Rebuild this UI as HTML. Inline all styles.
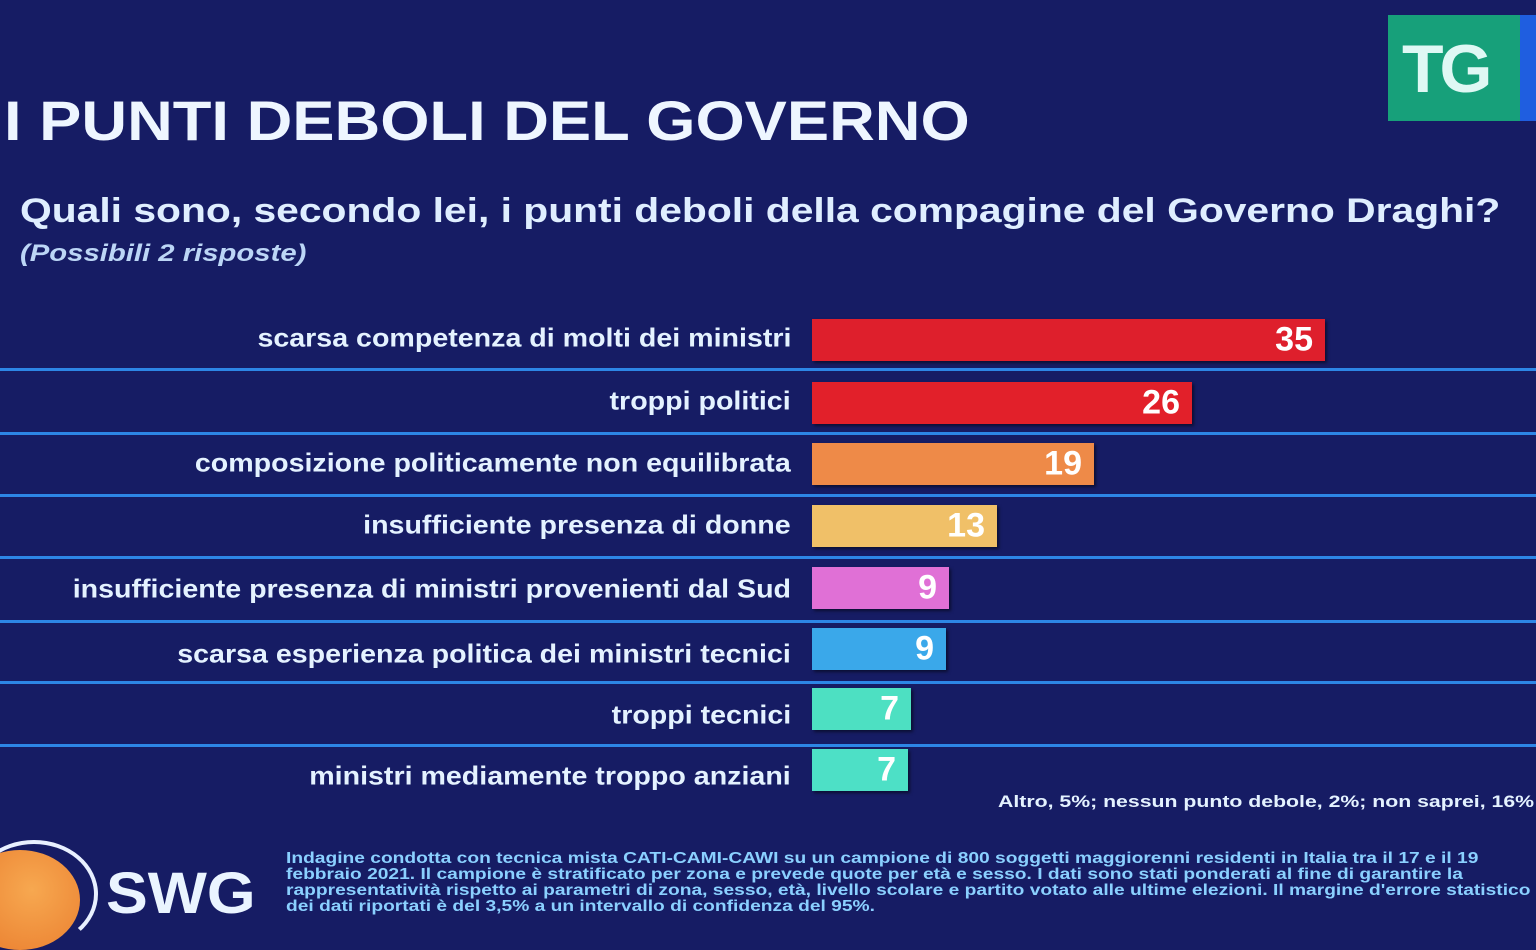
<!DOCTYPE html>
<html><head><meta charset="utf-8"><style>
body{margin:0;width:1536px;height:946px;overflow:hidden;background:#161c64;font-family:"Liberation Sans",sans-serif;position:relative;color:#e4f2ff}
.a{position:absolute;white-space:nowrap;transform-origin:0 0}
.lbl{position:absolute;right:745px;font-size:26px;font-weight:bold;text-align:right;white-space:nowrap;transform:translateY(-50%) scaleX(1.1);transform-origin:right center}
.bar{position:absolute;left:812px;height:42px;transform:translateY(-50%);box-shadow:2px 2px 3px rgba(0,0,0,.5)}
.bar span{position:absolute;right:12px;top:50%;transform:translateY(-50%);font-size:34px;font-weight:bold;color:#fff}
.sep{position:absolute;left:0;width:1536px;height:3px;background:#2d86e6}
</style></head><body>
<div class="a" style="left:1388px;top:15px;width:132px;height:106px;background:#17a07a"></div>
<div class="a" style="left:1520px;top:15px;width:16px;height:106px;background:#1f5ee0"></div>
<div class="a" style="left:1402px;top:30px;font-size:68px;font-weight:bold;color:#dff8f4;letter-spacing:-4px">TG</div>
<div class="a" style="left:4px;top:88px;font-size:56px;font-weight:bold;color:#eef6ff;transform:scaleX(1.13)">I PUNTI DEBOLI DEL GOVERNO</div>
<div class="a" style="left:20px;top:192px;font-size:34px;font-weight:bold;color:#dfeeff;transform:scaleX(1.2)">Quali sono, secondo lei, i punti deboli della compagine del Governo Draghi?</div>
<div class="a" style="left:20px;top:240px;font-size:24px;font-style:italic;font-weight:bold;color:#bcd6f6;transform:scaleX(1.22)">(Possibili 2 risposte)</div>

<div class="lbl" style="top:338px">scarsa competenza di molti dei ministri</div>
<div class="lbl" style="top:401px">troppi politici</div>
<div class="lbl" style="top:463px">composizione politicamente non equilibrata</div>
<div class="lbl" style="top:525px">insufficiente presenza di donne</div>
<div class="lbl" style="top:589px">insufficiente presenza di ministri provenienti dal Sud</div>
<div class="lbl" style="top:654px">scarsa esperienza politica dei ministri tecnici</div>
<div class="lbl" style="top:715px">troppi tecnici</div>
<div class="lbl" style="top:776px">ministri mediamente troppo anziani</div>

<div class="bar" style="top:340px;width:513px;background:#de1f2c"><span>35</span></div>
<div class="bar" style="top:403px;width:380px;background:#e2202a"><span>26</span></div>
<div class="bar" style="top:464px;width:282px;background:#ee8a48"><span>19</span></div>
<div class="bar" style="top:526px;width:185px;background:#f0c068"><span>13</span></div>
<div class="bar" style="top:588px;width:137px;background:#e070d6"><span>9</span></div>
<div class="bar" style="top:649px;width:134px;background:#3aa8ea"><span>9</span></div>
<div class="bar" style="top:709px;width:99px;background:#4de0c2"><span>7</span></div>
<div class="bar" style="top:770px;width:96px;background:#4de0c6"><span>7</span></div>

<div class="sep" style="top:368px"></div>
<div class="sep" style="top:432px"></div>
<div class="sep" style="top:494px"></div>
<div class="sep" style="top:556px"></div>
<div class="sep" style="top:620px"></div>
<div class="sep" style="top:681px"></div>
<div class="sep" style="top:744px"></div>

<div class="a" style="left:998px;top:792px;font-size:17px;font-weight:bold;transform:scaleX(1.25)">Altro, 5%; nessun punto debole, 2%; non saprei, 16%</div>

<div class="a" style="left:-40px;top:850px;width:120px;height:100px;border-radius:50%;background:radial-gradient(circle at 60% 40%,#f7a850,#e8782a)"></div>
<div class="a" style="left:-30px;top:840px;width:120px;height:100px;border-radius:50%;border:4px solid #e8f0ff;border-left-color:transparent;border-bottom-color:transparent"></div>
<div class="a" style="left:106px;top:860px;font-size:58px;font-weight:bold;color:#eaf4ff;transform:scaleX(1.08)">SWG</div>
<div class="a" style="left:286px;top:851px;font-size:16px;line-height:16px;font-weight:bold;color:#8ad0ff;transform:scaleX(1.2)">Indagine condotta con tecnica mista CATI-CAMI-CAWI su un campione di 800 soggetti maggiorenni residenti in Italia tra il 17 e il 19<br>febbraio 2021. Il campione è stratificato per zona e prevede quote per età e sesso. I dati sono stati ponderati al fine di garantire la<br>rappresentatività rispetto ai parametri di zona, sesso, età, livello scolare e partito votato alle ultime elezioni. Il margine d'errore statistico<br>dei dati riportati è del 3,5% a un intervallo di confidenza del 95%.</div>
</body></html>
